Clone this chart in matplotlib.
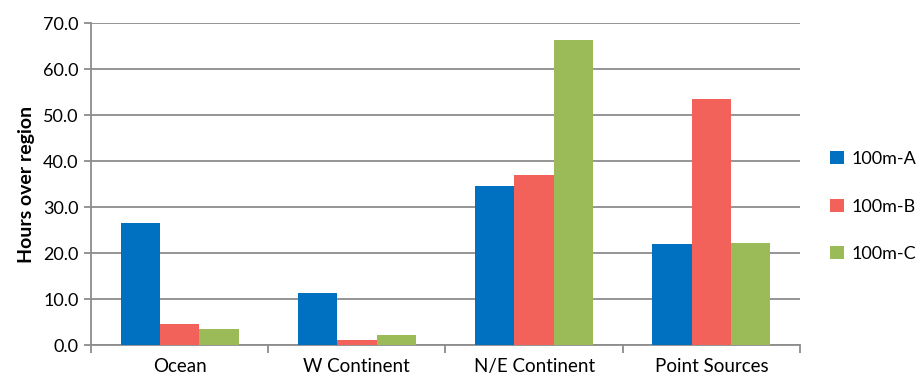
import matplotlib.pyplot as plt
import numpy as np

categories = ["Ocean", "W Continent", "N/E Continent", "Point Sources"]
series_names = ["100m-A", "100m-B", "100m-C"]
vals_a = [26.6, 11.4, 34.6, 22.0]
vals_b = [4.5, 1.0, 37.0, 53.5]
vals_c = [3.4, 2.2, 66.4, 22.2]
colors = ["#0070C0", "#F2615A", "#9BBB59"]

plt.rcParams['font.family'] = ['Lato', 'DejaVu Sans']

fig = plt.figure(figsize=(9.21, 3.79), dpi=100)
ax = fig.add_axes([0.0988, 0.0897, 0.7698, 0.8496])

x = np.arange(len(categories))
w = 1 / 4.5
for i, (vals, name) in enumerate(zip([vals_a, vals_b, vals_c], series_names)):
    ax.bar(x + (i - 1) * w, vals, width=w, color=colors[i], label=name, zorder=3)

ax.set_xlim(-0.5, len(categories) - 0.5)
ax.set_ylim(0, 70)
ax.set_yticks(np.arange(0, 71, 10))
ax.set_yticklabels([f"{v:.1f}" for v in np.arange(0, 71, 10)], fontsize=13)
ax.yaxis.grid(True, color="#8c8c8c", linewidth=1.3, zorder=0)

ax.set_xticks(x)
ax.set_xticklabels(categories, fontsize=13.5)
ax.tick_params(axis="x", length=0, pad=9)
ax.set_xticks(np.arange(-0.5, len(categories), 1), minor=True)
ax.tick_params(axis="x", which="minor", length=6, color="#8c8c8c", width=1.3)
ax.tick_params(axis="y", length=5, color="#8c8c8c", width=1.3, pad=4)

for s in ["top", "right"]:
    ax.spines[s].set_visible(False)
for s in ["left", "bottom"]:
    ax.spines[s].set_color("#8c8c8c")
    ax.spines[s].set_linewidth(1.3)

ax.set_ylabel("Hours over region", fontsize=14, fontweight="bold", labelpad=6)

ax.legend(loc="center left", bbox_to_anchor=(1.02, 0.43), frameon=False,
          fontsize=13, handlelength=0.75, handleheight=0.75, labelspacing=1.75,
          handletextpad=0.4)

fig.savefig("out.png", dpi=100)
